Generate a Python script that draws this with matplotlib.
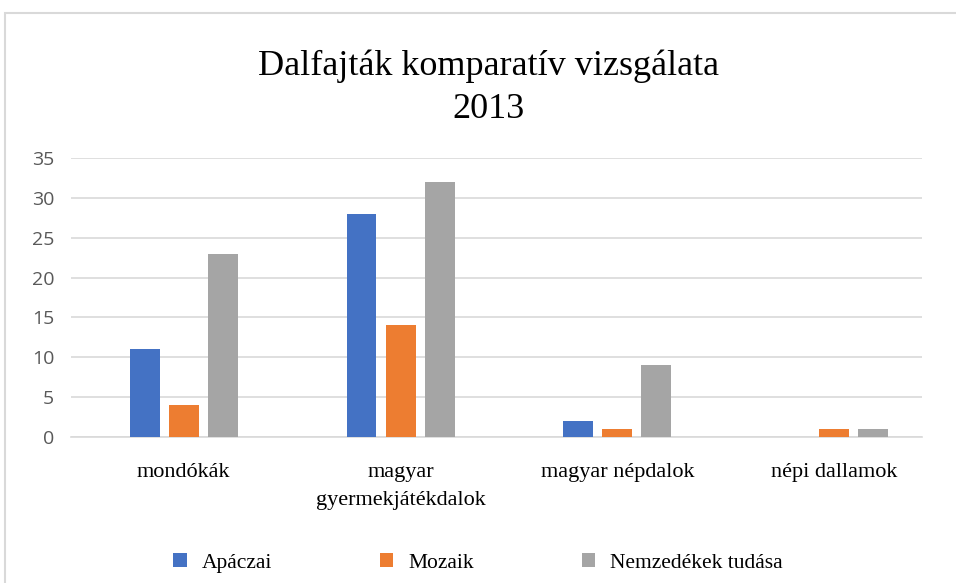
import numpy as np
import matplotlib
matplotlib.use("Agg")
import matplotlib.pyplot as plt
from matplotlib.patches import Rectangle

categories = ["mondókák", "magyar\ngyermekjátékdalok", "magyar népdalok", "népi dallamok"]
series_names = ["Apáczai", "Mozaik", "Nemzedékek tudása"]
apaczai = [11, 28, 2, 0]
mozaik = [4, 14, 1, 1]
nemzedekek = [23, 32, 9, 1]
colors = ["#4472C4", "#ED7D31", "#A5A5A5"]
yticks = [0, 5, 10, 15, 20, 25, 30, 35]

fig = plt.figure(figsize=(9.56, 5.83), dpi=100)
fig.patches.append(Rectangle((5 / 956, -0.1), 1.2, 1 - 13 / 583 + 0.1, transform=fig.transFigure,
                             fill=False, edgecolor="#d9d9d9", linewidth=1.5))

ax = fig.add_axes([71 / 956, 1 - 437 / 583, (922 - 71) / 956, (437 - 158) / 583])

x = np.arange(len(categories))
width = 0.138
step = 0.18
for i, (vals, name) in enumerate(zip([apaczai, mozaik, nemzedekek], series_names)):
    ax.bar(x + (i - 1) * step, vals, width, color=colors[i], label=name, zorder=3)

ax.set_ylim(0, 35)
ax.set_xlim(-0.52, 3.405)
ax.set_yticks(yticks)
ax.set_yticklabels([str(v) for v in yticks], fontfamily="Open Sans", fontsize=14, color="#595959")
ax.set_xticks(x)
ax.set_xticklabels(categories, fontfamily="Liberation Serif", fontsize=16, color="#000000", linespacing=1.6)
ax.tick_params(axis="both", length=0)
ax.tick_params(axis="y", pad=12)
ax.tick_params(axis="x", pad=19)
ax.grid(axis="y", color="#d9d9d9", linewidth=1.2, zorder=0)
for s in ["top", "right", "left"]:
    ax.spines[s].set_visible(False)
ax.spines["bottom"].set_color("#d9d9d9")
ax.spines["bottom"].set_linewidth(1.2)

fig.text(489 / 956, 1 - 75 / 583, "Dalfajták komparatív vizsgálata", ha="center", va="baseline",
         fontfamily="Liberation Serif", fontsize=26)
fig.text(489 / 956, 1 - 118 / 583, "2013", ha="center", va="baseline",
         fontfamily="Liberation Serif", fontsize=26)

fig.legend(loc="center", bbox_to_anchor=(478 / 956, 1 - 563 / 583), ncol=3, frameon=False,
           prop={"family": "Liberation Serif", "size": 15.5}, handlelength=0.62, handleheight=0.62,
           handletextpad=0.7, columnspacing=5.0)

fig.savefig("out.png", dpi=100)
